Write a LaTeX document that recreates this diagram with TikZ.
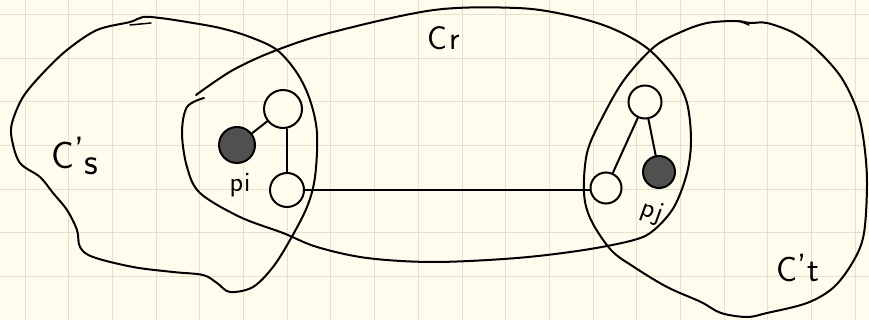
\documentclass[tikz,border=0pt]{standalone}
\usepackage{fontspec}
\usepackage{xcolor}
\usetikzlibrary{arrows.meta,calc}

\definecolor{paper}{RGB}{254,252,236}
\definecolor{gridc}{RGB}{228,225,205}
\definecolor{inkfill}{RGB}{80,80,78}

\tikzset{
  ink/.style={black,line width=2pt,line cap=round,line join=round},
  opennode/.style={circle,draw=black,fill=paper,line width=2pt,inner sep=0pt},
  fullnode/.style={circle,draw=black,fill=inkfill,line width=2pt,inner sep=0pt},
  hand/.style={font=\fontsize{38}{38}\selectfont\sffamily,inner sep=0pt},
  handsmall/.style={font=\fontsize{28}{28}\selectfont\sffamily,inner sep=0pt}
}

\begin{document}
\begin{tikzpicture}[x=1pt,y=-1pt]
    % ============ Paper and grid ============
    \fill[paper] (0,0) rectangle (869,320);
    \useasboundingbox (0,0) rectangle (869,320);
    \foreach \gx in {0,...,19}
      \draw[gridc,line width=1pt] ({25+43.7*\gx},0) -- ({25+43.7*\gx},320);
    \foreach \gy in {0,...,7}
      \draw[gridc,line width=1pt] (0,{14.5+43.7*\gy}) -- (869,{14.5+43.7*\gy});
    % ============ Cluster C'_s (left blob) ============
    \draw[ink] plot[smooth cycle,tension=0.55] coordinates {
      (143,17) (160,18) (187,22) (220,28) (250,37) (277,50) (297,73)
      (310,100) (317,133) (315,177) (307,207) (290,240) (273,267)
      (253,287) (230,292) (217,283) (203,275) (173,272) (133,267)
      (93,257) (80,247) (77,230) (67,210) (53,193) (40,177) (20,163)
      (12,140) (12,123) (23,97) (43,73) (67,50) (97,30) (130,22)};
    \draw[ink,line width=1.5pt] (130,25) -- (151,23);
    % ============ Cluster C_r (long oval) ============
    \draw[ink] plot[smooth,tension=0.55] coordinates {
      (196,95) (233,70) (277,50) (333,32) (434,10) (517,8) (567,15)
      (611,28) (647,48) (674,77) (687,103) (691,140) (687,173)
      (674,207) (654,230) (634,240) (584,250) (517,258) (434,262)
      (367,258) (317,247) (283,233) (240,217) (200,193) (187,167)
      (182,133) (187,107) (204,98)};
    % ============ Cluster C'_t (right blob) ============
    \draw[ink] plot[smooth cycle,tension=0.55] coordinates {
      (750,23) (767,23) (794,33) (817,50) (841,77) (857,110) (864,143)
      (867,183) (864,233) (854,260) (834,287) (807,303) (767,313)
      (747,317) (721,313) (701,302) (667,287) (634,267) (611,250)
      (591,220) (584,193) (587,153) (601,120) (624,80) (654,47)
      (681,32) (707,23) (736,21)};
    \draw[ink,line width=1.5pt] (736,21) .. controls (742,22) .. (749,25);
    % ============ Nodes ============
    \node[fullnode,minimum size=36pt] (pi) at (237,145) {};
    \node[opennode,minimum size=38pt] (ai) at (283,109) {};
    \node[opennode,minimum size=34pt] (bi) at (287,190) {};
    \node[opennode,minimum size=33pt] (aj) at (645,102) {};
    \node[opennode,minimum size=31pt] (bj) at (606,188) {};
    \node[fullnode,minimum size=32pt] (pj) at (659,172) {};
    % ============ Edges ============
    \draw[ink] (pi) -- (ai);
    \draw[ink] (bi.north) -- (bi.north |- ai.south);
    \draw[ink] (bi.east) -- (bi.east -| bj.west);
    \draw[ink] (aj) -- (bj);
    \draw[ink] (aj) -- (pj);
    % ============ Labels ============
    \node[hand] (ls) at (75,156) {C\raisebox{5pt}{'}\raisebox{-6pt}{s}};
    \node[hand,font=\fontsize{33}{33}\selectfont\sffamily] (lr) at (444,38) {C\kern2pt r};
    \node[hand,font=\fontsize{35}{35}\selectfont\sffamily] (lt) at (798,268) {C\raisebox{3pt}{'}\kern1pt t};
    \node[handsmall] (lpi) at (240,185) {p\kern1pt i};
    \node[handsmall,rotate=-20] (lpj) at (652,212) {p\kern2pt j};
\end{tikzpicture}
\end{document}
